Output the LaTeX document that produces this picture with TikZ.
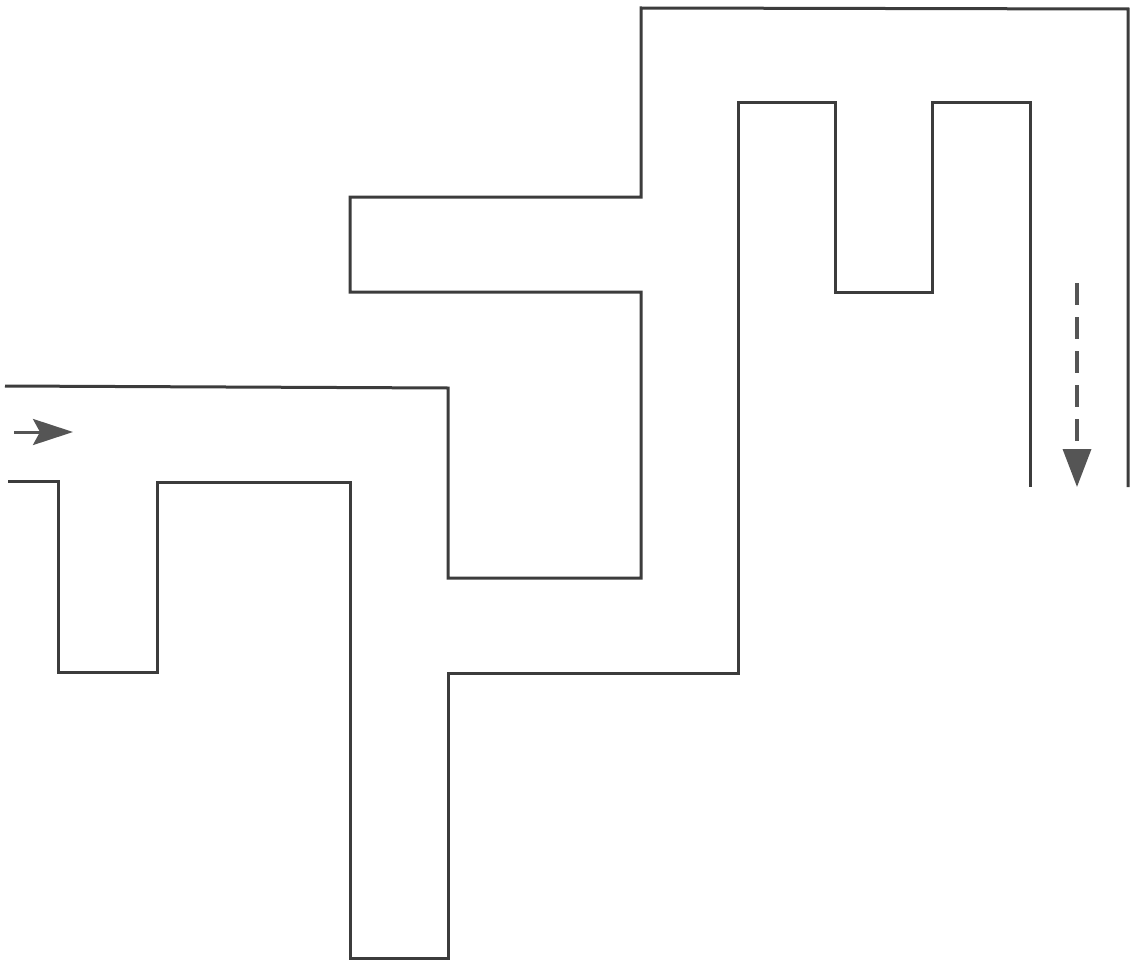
\documentclass[tikz,border=0pt]{standalone}
\usetikzlibrary{arrows.meta}
\definecolor{wall}{HTML}{3c3c3c}
\definecolor{arr}{HTML}{555555}
\begin{document}
\begin{tikzpicture}[x=1pt,y=-1pt,
  wallline/.style={draw=wall,line width=3pt,line join=miter},
  flow/.style={draw=arr,line width=3pt,-{Stealth[length=40pt,width=26pt,inset=7pt]}},
  flowdash/.style={draw=arr,line width=3.5pt,dash pattern=on 22pt off 12pt,-{Triangle[length=38pt,width=28pt]}}]
\useasboundingbox[fill=white] (0,0) rectangle (1132,963);
% outer wall
\draw[wallline] (5,386) -- (448,388) -- (448,578) -- (641,578) -- (641,292) -- (350,292) -- (350,197) -- (641,197) -- (641,8) -- (1128,9) -- (1128,487);
% inner wall
\draw[wallline] (8,481) -- (58,481) -- (58,672) -- (157,672) -- (157,482) -- (350,482) -- (350,958) -- (448,958) -- (448,673) -- (738,673) -- (738,103) -- (835,103) -- (835,292) -- (932,292) -- (932,103) -- (1030,103) -- (1030,487);
% arrows
\coordinate (inA) at (14,432);
\coordinate (inB) at (73,432);
\coordinate (outA) at (1077,283);
\coordinate (outB) at (1077,487);
\draw[flow] (inA) -- (inB);
\draw[flowdash] (outA) -- (outB);
\end{tikzpicture}
\end{document}
